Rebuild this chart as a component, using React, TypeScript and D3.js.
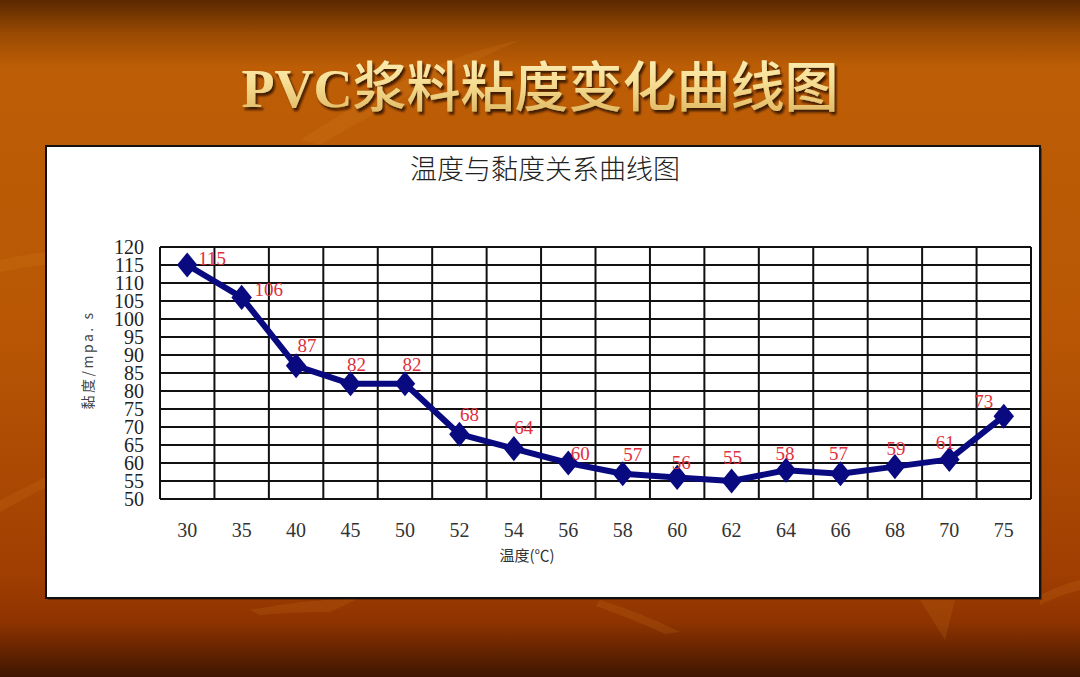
import React from "react";
import * as d3 from "d3";

const categories = ["30", "35", "40", "45", "50", "52", "54", "56", "58", "60", "62", "64", "66", "68", "70", "75"];
const viscosity = [115, 106, 87, 82, 82, 68, 64, 60, 57, 56, 55, 58, 57, 59, 61, 73];
const yTicks = [50, 55, 60, 65, 70, 75, 80, 85, 90, 95, 100, 105, 110, 115, 120];

// label nudges (style only)
const labelDx = [25, 27, 11, 6, 7, 10, 10, 12, 10, 4, 1, -1, -2, 1, -4, -20];
const labelDy = [-7, -8, -20, -19, -19, -20, -21, -10, -19, -15, -24, -17, -20, -18, -17, -15];

const W = 1080;
const H = 677;
const plot = { left: 160, right: 1031, top: 247, bottom: 499 };

export default function App() {
  const x = d3.scaleBand<string>().domain(categories).range([plot.left, plot.right]).padding(0);
  const y = d3.scaleLinear().domain([50, 120]).range([plot.bottom, plot.top]);
  const line = d3
    .line<number>()
    .x((_, i) => (x(categories[i]) as number) + x.bandwidth() / 2)
    .y((d) => y(d));
  const square = d3.symbol().type(d3.symbolSquare).size(260)() as string;
  const boundaries = categories.map((c) => x(c) as number).concat([plot.right]);

  const serif = "'Liberation Serif', 'DejaVu Serif', serif";
  const cjk = "'Noto Sans CJK SC', sans-serif";

  return (
    <svg width={W} height={H} style={{ position: "absolute", left: 0, top: 0, display: "block" }}>
      <defs>
        <linearGradient id="bg" x1="0" y1="0" x2="0" y2="1">
          <stop offset="0" stopColor="#5a2800" />
          <stop offset="0.05" stopColor="#9a4a02" />
          <stop offset="0.1" stopColor="#bd5e06" />
          <stop offset="0.5" stopColor="#b85605" />
          <stop offset="0.85" stopColor="#a03e02" />
          <stop offset="0.92" stopColor="#8e3300" />
          <stop offset="1" stopColor="#3e1602" />
        </linearGradient>
        <linearGradient id="gold" x1="0" y1="0" x2="0" y2="1">
          <stop offset="0" stopColor="#fff6c8" />
          <stop offset="0.5" stopColor="#f6dd92" />
          <stop offset="1" stopColor="#d9ad55" />
        </linearGradient>
        <filter id="shadow" x="-10%" y="-10%" width="120%" height="130%">
          <feDropShadow dx="2" dy="3" stdDeviation="1.2" floodColor="#2a1000" floodOpacity="0.85" />
        </filter>
      </defs>
      <rect x={0} y={0} width={W} height={H} fill="url(#bg)" />
      {/* faint leaf streaks */}
      <g fill="#e08a2a" opacity={0.15}>
        <path d="M0,260 Q60,245 140,252 L140,262 Q70,258 0,272 Z" />
        <path d="M0,500 Q40,480 60,470 L60,480 Q30,495 0,512 Z" />
        <path d="M250,610 Q300,600 360,598 L330,612 Q290,612 260,615 Z" />
        <path d="M600,600 Q640,612 680,632 L665,634 Q630,618 596,606 Z" />
        <path d="M920,600 L955,600 L945,640 Z" />
        <path d="M1040,595 Q1060,585 1080,580 L1080,590 Q1060,595 1040,605 Z" />
        <path d="M300,140 Q420,60 520,40 Q430,80 320,145 Z" />
      </g>

      {/* main title */}
      <text x={540} y={107} textAnchor="middle" fill="url(#gold)" filter="url(#shadow)" fontSize={54}>
        <tspan fontFamily={serif} fontWeight="bold">PVC</tspan>
        <tspan fontFamily={cjk} fontWeight={500}>浆料粘度变化曲线图</tspan>
      </text>

      {/* chart box */}
      <rect x={48} y={148} width={994} height={452} fill="#3a1800" opacity={0.5} />
      <rect x={46} y={146} width={994} height={452} fill="#ffffff" stroke="#111" strokeWidth={2} />

      <text x={545} y={179} textAnchor="middle" fontFamily={cjk} fontWeight={300} fontSize={27} fill="#222">
        温度与黏度关系曲线图
      </text>

      {/* grid */}
      <g stroke="#111" strokeWidth={2}>
        {yTicks.map((t) => (
          <line key={"h" + t} x1={plot.left} x2={plot.right} y1={y(t)} y2={y(t)} />
        ))}
        {boundaries.map((b, i) => (
          <line key={"v" + i} x1={b} x2={b} y1={plot.top} y2={plot.bottom} />
        ))}
      </g>

      {/* y tick labels */}
      <g fontFamily={serif} fontSize={20} fill="#222" textAnchor="end">
        {yTicks.map((t) => (
          <text key={"yt" + t} x={144} y={y(t)} dy="0.35em">
            {t}
          </text>
        ))}
      </g>

      {/* x tick labels */}
      <g fontFamily={serif} fontSize={20} fill="#333" textAnchor="middle">
        {categories.map((c) => (
          <text key={"xt" + c} x={(x(c) as number) + x.bandwidth() / 2} y={537}>
            {c}
          </text>
        ))}
      </g>

      <text x={527} y={561} textAnchor="middle" fontFamily={cjk} fontSize={15} fill="#333">
        温度(℃)
      </text>
      <text
        transform="translate(93,360) rotate(-90)"
        textAnchor="middle"
        fontFamily={cjk}
        fontSize={14}
        letterSpacing={2.5}
        fill="#444"
      >
        黏度/mpa. s
      </text>

      {/* series */}
      <path d={line(viscosity) as string} fill="none" stroke="#0a0a80" strokeWidth={6} strokeLinejoin="round" />
      {viscosity.map((v, i) => {
        const cx = (x(categories[i]) as number) + x.bandwidth() / 2;
        return (
          <path
            key={"m" + i}
            d={square}
            transform={`translate(${cx},${y(v)}) scale(0.9,1.1) rotate(45)`}
            fill="#0a0a80"
          />
        );
      })}
      <g fontFamily={serif} fontSize={19} fill="#e0303c" textAnchor="middle">
        {viscosity.map((v, i) => {
          const cx = (x(categories[i]) as number) + x.bandwidth() / 2;
          return (
            <text key={"l" + i} x={cx + labelDx[i]} y={y(v) + labelDy[i]} dy="0.35em">
              {v}
            </text>
          );
        })}
      </g>
    </svg>
  );
}
